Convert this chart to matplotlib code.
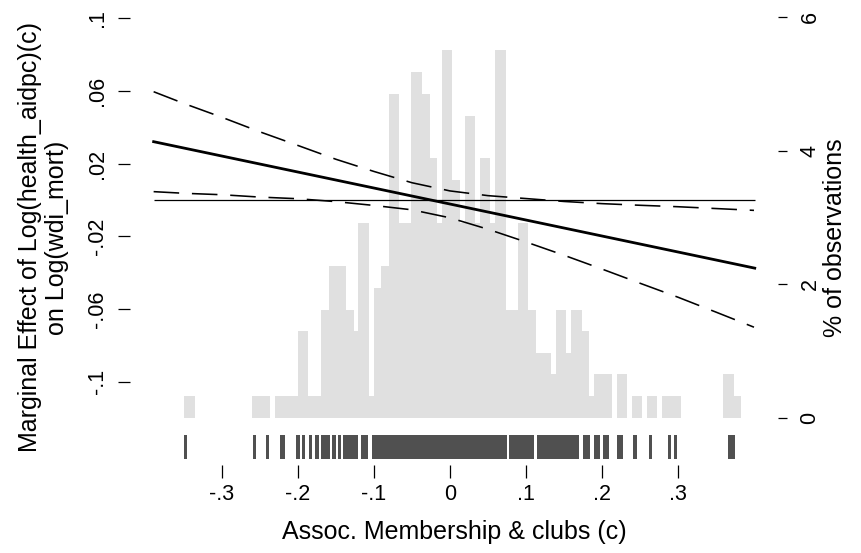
import numpy as np
import matplotlib
matplotlib.use('Agg')
import matplotlib.pyplot as plt

plt.rcParams['font.family'] = ['Liberation Sans', 'DejaVu Sans']

# marginal effect of log aid on log mortality, by associational membership
x_pts = [-0.39, -0.35, -0.30, -0.25, -0.20, -0.15, -0.10, -0.05, 0.00,
         0.05, 0.10, 0.15, 0.20, 0.25, 0.30, 0.35, 0.40]
me_upper = [0.0596, 0.0531, 0.0455, 0.0375, 0.0300, 0.0224, 0.0157, 0.0095,
            0.0050, 0.0024, 0.0008, -0.0008, -0.0020, -0.0029, -0.0037,
            -0.0047, -0.0057]
me_lower = [0.0046, 0.0037, 0.0029, 0.0016, 0.0007, -0.0009, -0.0030,
            -0.0054, -0.0098, -0.0161, -0.0231, -0.0304, -0.0380, -0.0458,
            -0.0535, -0.0617, -0.0700]
me_x = [-0.39, 0.401]
me_est = [0.0321, -0.0375]

# histogram of the moderator (% of observations), one entry per bar
hist_left = [-0.3500, -0.2605, -0.2303, -0.2000, -0.1864, -0.1701, -0.1596,
             -0.1368, -0.1267, -0.1207, -0.1066, -0.1000, -0.0904, -0.0803,
             -0.0671, -0.0509, -0.0368, -0.0267, -0.0167, -0.0105, 0.0030,
             0.0132, 0.0197, 0.0333, 0.0399, 0.0530, 0.0596, 0.0733, 0.0895,
             0.1030, 0.1132, 0.1325, 0.1399, 0.1530, 0.1596, 0.1737, 0.1829,
             0.1895, 0.2193, 0.2395, 0.2596, 0.2793, 0.3596, 0.3733]
hist_right = [-0.3359, -0.2368, -0.2000, -0.1864, -0.1701, -0.1596, -0.1368,
              -0.1267, -0.1207, -0.1066, -0.1000, -0.0904, -0.0803, -0.0671,
              -0.0509, -0.0368, -0.0267, -0.0167, -0.0105, 0.0030, 0.0132,
              0.0197, 0.0333, 0.0399, 0.0530, 0.0596, 0.0733, 0.0895, 0.1030,
              0.1132, 0.1325, 0.1399, 0.1530, 0.1596, 0.1737, 0.1829, 0.1895,
              0.2132, 0.2329, 0.2530, 0.2728, 0.3036, 0.3733, 0.3833]
hist_pct = [0.32, 0.32, 0.32, 1.30, 0.32, 1.62, 2.27, 1.62, 1.30, 2.92, 0.32,
            1.94, 2.27, 4.86, 2.92, 5.18, 4.86, 3.89, 2.92, 5.51, 3.56, 2.92,
            4.53, 2.92, 3.89, 2.92, 5.51, 1.62, 2.92, 1.62, 0.97, 0.65, 1.62,
            0.97, 1.62, 1.30, 0.32, 0.65, 0.65, 0.32, 0.32, 0.32, 0.65, 0.32]

# rug of observed values (start, end of each visible run of marks)
rug_start = [-0.3495, -0.2593, -0.2419, -0.2236, -0.2023, -0.1948, -0.1859,
             -0.1775, -0.1701, -0.1552, -0.1477, -0.1413, -0.1165, -0.1031,
             0.0778, 0.1150, 0.1745, 0.1894, 0.2018, 0.2201, 0.2414, 0.2613,
             0.2871, 0.2950, 0.3654]
rug_end = [-0.3460, -0.2553, -0.2380, -0.2172, -0.1973, -0.1909, -0.1815,
           -0.1725, -0.1577, -0.1502, -0.1428, -0.1205, -0.1081, 0.0754,
           0.1111, 0.1696, 0.1844, 0.1968, 0.2092, 0.2281, 0.2464, 0.2662,
           0.2910, 0.2985, 0.3753]

x_ticks = [-0.3, -0.2, -0.1, 0.0, 0.1, 0.2, 0.3]
x_ticklabels = ['-.3', '-.2', '-.1', '0', '.1', '.2', '.3']
y_ticks = [-0.1, -0.06, -0.02, 0.02, 0.06, 0.1]
y_ticklabels = ['-.1', '-.06', '-.02', '.02', '.06', '.1']
pct_ticks = [0, 2, 4, 6]
pct_ticklabels = ['0', '2', '4', '6']

TICK_FS = 15.5
TITLE_FS = 18

W, H = 861, 553
fig = plt.figure(figsize=(W / 100, H / 100), dpi=100)
L, R, T, B = 130, 778, 10, 465
rect = [L / W, (H - B) / H, (R - L) / W, (B - T) / H]

axh = fig.add_axes(rect)
axl = axh.twinx()

# histogram + rug on the percent axis (right), drawn underneath
lefts = np.array(hist_left)
widths = np.array(hist_right) - lefts
axh.bar(lefts, hist_pct, width=widths, align='edge', color='#e0e0e0',
        linewidth=0, zorder=1)
rs = np.array(rug_start)
rug_spans = list(zip(rs, np.array(rug_end) - rs))
axh.broken_barh(rug_spans, (-0.62, 0.36), facecolors='#505050', zorder=1)
axh.set_xlim(-0.4211, 0.4316)
axh.set_ylim(-0.7091, 6.1124)
axh.yaxis.tick_right()
axh.yaxis.set_label_position('right')
axh.set_yticks(pct_ticks)
axh.set_yticklabels(pct_ticklabels, rotation=90, va='center')
axh.set_xticks(x_ticks)
axh.set_xticklabels(x_ticklabels)
axh.tick_params(axis='y', direction='out', length=6.5, width=0.9, pad=9,
                labelsize=TICK_FS)
axh.tick_params(axis='x', direction='out', length=9.5, width=0.9, pad=4,
                labelsize=TICK_FS)
axh.set_ylabel('% of observations', fontsize=TITLE_FS, labelpad=2)
axh.set_xlabel('Assoc. Membership & clubs (c)', fontsize=TITLE_FS,
               labelpad=11)

# marginal effect with its confidence band on the left axis
axl.yaxis.tick_left()
axl.yaxis.set_label_position('left')
axl.hlines(0, me_x[0], me_x[1], color='black', lw=0.9, zorder=2)
axl.plot(x_pts, me_upper, color='black', lw=1.15, dashes=(16, 8), zorder=3)
axl.plot(x_pts, me_lower, color='black', lw=1.15, dashes=(16, 8), zorder=3)
axl.plot(me_x, me_est, color='black', lw=2.0, zorder=4)
axl.set_ylim(-0.14584, 0.10457)
axl.set_yticks(y_ticks)
axl.set_yticklabels(y_ticklabels, rotation=90, va='center')
axl.tick_params(axis='y', direction='out', length=8.5, width=0.9, pad=7,
                labelsize=TICK_FS)
axl.set_ylabel('Marginal Effect of Log(health_aidpc)(c)\non Log(wdi_mort)',
               fontsize=TITLE_FS, labelpad=13.5, linespacing=1.12)

for a in (axh, axl):
    for s in a.spines.values():
        s.set_visible(False)
    a.patch.set_visible(False)

fig.savefig('out.png', dpi=100)
